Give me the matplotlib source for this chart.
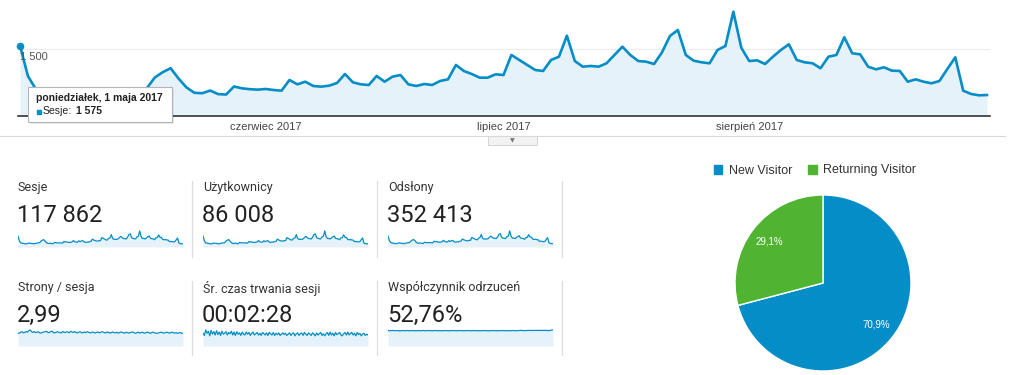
import matplotlib.pyplot as plt
from matplotlib.patches import Rectangle, Patch
import numpy as np

plt.rcParams['font.family'] = ['Liberation Sans', 'DejaVu Sans']

W, H = 1024, 375

# Sesje dziennie, 1 maja - 31 sierpnia 2017
sesje = [1575, 895, 600, 560, 520, 480, 450, 510, 570, 540,
         520, 490, 470, 530, 570, 600, 620, 860, 980, 1070,
         840, 640, 520, 510, 570, 490, 480, 660, 620, 600,
         590, 605, 582, 567, 806, 709, 768, 672, 657, 679,
         739, 940, 754, 709, 694, 896, 768, 880, 918, 709,
         672, 716, 694, 784, 821, 1142, 1008, 940, 858, 858,
         933, 918, 1366, 1254, 1142, 1030, 1008, 1254, 1328, 1798,
         1231, 1104, 1120, 1104, 1180, 1366, 1552, 1366, 1231, 1216,
         1164, 1426, 1791, 1925, 1366, 1238, 1202, 1180, 1478, 1567,
         2335, 1529, 1231, 1246, 1164, 1328, 1478, 1605, 1254, 1202,
         1180, 1068, 1328, 1366, 1762, 1404, 1381, 1104, 1045, 1090,
         1015, 1008, 768, 821, 768, 732, 784, 1052, 1314, 567,
         493, 463, 470]

uzytkownicy = [1180, 650, 440, 410, 380, 350, 330, 370, 420, 400,
               380, 360, 340, 390, 420, 440, 450, 630, 720, 790,
               620, 470, 380, 370, 420, 360, 350, 480, 450, 440,
               430, 440, 430, 410, 590, 520, 560, 490, 480, 500,
               540, 690, 550, 520, 510, 660, 560, 650, 670, 520,
               490, 520, 510, 570, 600, 840, 740, 690, 630, 630,
               680, 670, 1000, 920, 840, 750, 740, 920, 970, 1320,
               900, 810, 820, 810, 860, 1000, 1140, 1000, 900, 890,
               850, 1040, 1310, 1410, 1000, 910, 880, 860, 1080, 1150,
               1710, 1120, 900, 910, 850, 970, 1080, 1170, 920, 880,
               860, 780, 970, 1000, 1290, 1030, 1010, 810, 760, 800,
               740, 740, 560, 600, 560, 540, 570, 770, 960, 410,
               360, 340, 340]

odslony = [4600, 2700, 1850, 1700, 1550, 1450, 1400, 1500, 1750, 1600,
           1600, 1450, 1400, 1600, 1700, 1800, 1900, 2500, 2900, 3100,
           2600, 1900, 1600, 1550, 1700, 1500, 1450, 2000, 1850, 1800,
           1800, 1850, 1750, 1700, 2400, 2150, 2300, 2000, 2000, 2050,
           2200, 2800, 2250, 2150, 2100, 2650, 2300, 2600, 2750, 2150,
           2000, 2150, 2100, 2350, 2450, 3350, 3000, 2800, 2600, 2550,
           2800, 2750, 4000, 3700, 3400, 3100, 3000, 3700, 3950, 5200,
           3650, 3300, 3350, 3300, 3500, 4050, 4550, 4050, 3700, 3650,
           3500, 4200, 5200, 5600, 4050, 3700, 3600, 3550, 4350, 4600,
           6700, 4500, 3700, 3750, 3500, 3950, 4400, 4700, 3750, 3600,
           3550, 3200, 3950, 4050, 5150, 4150, 4100, 3300, 3150, 3250,
           3050, 3000, 2300, 2450, 2300, 2200, 2350, 3150, 3900, 1750,
           1500, 1400, 1450]

strony_na_sesje = [2.85, 2.80, 3.05, 3.15, 2.90, 3.00, 3.20, 3.05, 3.40, 3.55,
                   3.15, 3.00, 3.20, 2.95, 3.05, 3.15, 2.90, 2.85, 3.00, 3.10,
                   3.15, 3.25, 3.00, 2.95, 3.15, 3.30, 3.00, 2.90, 3.00, 3.15,
                   3.05, 2.95, 2.90, 3.20, 3.05, 2.95, 3.15, 3.05, 2.95, 3.25,
                   3.10, 3.00, 3.20, 2.95, 2.90, 3.05, 3.15, 2.95, 2.90, 3.10,
                   2.95, 3.15, 3.05, 2.95, 2.90, 3.10, 3.00, 2.85, 3.00, 3.10,
                   2.90, 3.00, 3.15, 3.05, 2.95, 2.90, 3.10, 3.00, 2.85, 2.95,
                   3.10, 2.95, 2.90, 3.05, 2.85, 2.95, 3.10, 3.00, 2.90, 2.85,
                   3.05, 2.95, 2.85, 2.95, 3.05, 3.10, 2.90, 2.80, 2.95, 3.05,
                   2.85, 2.95, 3.05, 2.90, 2.85, 3.00, 3.05, 2.90, 2.80, 3.00,
                   3.05, 2.90, 2.85, 2.80, 2.90, 3.00, 3.05, 2.90, 2.85, 2.95,
                   3.05, 2.95, 2.85, 2.95, 3.05, 2.90, 2.85, 2.95, 2.80, 2.90,
                   2.95, 2.85, 2.80]

# sredni czas trwania sesji w sekundach
czas_sesji = [150, 125, 190, 150, 175, 120, 185, 140, 170, 130,
              180, 135, 165, 125, 175, 140, 150, 170, 130, 160,
              145, 175, 130, 165, 125, 170, 140, 155, 125, 165,
              140, 130, 165, 140, 160, 125, 150, 165, 130, 145,
              160, 130, 150, 125, 160, 145, 130, 155, 125, 160,
              145, 130, 160, 125, 150, 135, 155, 125, 140, 155,
              135, 150, 125, 140, 155, 125, 145, 155, 120, 145,
              155, 125, 145, 155, 125, 160, 140, 125, 155, 140,
              125, 155, 140, 120, 155, 130, 145, 160, 125, 145,
              120, 145, 160, 125, 165, 130, 150, 120, 160, 135,
              145, 160, 130, 120, 145, 160, 130, 165, 130, 150,
              160, 130, 150, 120, 160, 135, 150, 120, 140, 150,
              125, 140, 130]

odrzucenia = [53.5, 52.0, 53.0, 52.5, 53.5, 52.0, 52.5, 53.0, 51.5, 52.0,
              52.5, 53.0, 52.0, 52.5, 53.0, 52.5, 52.0, 53.0, 52.5, 52.0,
              52.5, 52.0, 53.0, 52.5, 52.0, 52.5, 53.0, 52.5, 52.0, 52.5,
              53.0, 52.5, 52.5, 52.0, 52.5, 53.0, 52.5, 52.0, 52.5, 52.5,
              52.0, 52.5, 53.0, 52.5, 52.5, 52.0, 52.5, 52.5, 53.0, 52.5,
              52.5, 52.0, 52.5, 53.0, 52.5, 52.5, 52.0, 52.5, 52.5, 53.0,
              52.5, 52.0, 52.5, 52.5, 53.0, 52.5, 52.0, 52.5, 52.0, 52.5,
              52.5, 53.0, 52.5, 52.5, 52.0, 52.0, 52.5, 52.5, 53.0, 52.5,
              52.0, 52.5, 52.0, 52.5, 53.0, 52.5, 52.5, 52.0, 52.5, 52.5,
              52.0, 52.5, 53.0, 52.5, 52.5, 52.0, 52.5, 53.0, 53.5, 53.0,
              53.0, 52.5, 53.0, 53.0, 53.5, 53.0, 53.0, 53.5, 53.0, 53.5,
              53.5, 53.0, 53.5, 53.5, 53.0, 53.5, 53.5, 53.0, 53.5, 52.0,
              53.5, 54.5, 55.0]

miesiace = ['czerwiec 2017', 'lipiec 2017', 'sierpień 2017']
miesiace_dzien = [31, 61, 92]
siatka_y = 1500
siatka_etykieta = '1 500'

metryki = ['Sesje', 'Użytkownicy', 'Odsłony',
           'Strony / sesja', 'Śr. czas trwania sesji', 'Współczynnik odrzuceń']
wartosci = ['117 862', '86 008', '352 413', '2,99', '00:02:28', '52,76%']
serie = [sesje, uzytkownicy, odslony, strony_na_sesje, czas_sesji, odrzucenia]

typy = ['New Visitor', 'Returning Visitor']
udzialy = [70.9, 29.1]

tooltip_dzien = 'poniedziałek, 1 maja 2017'
tooltip_wartosc = '1 575'

NIEBIESKI = '#058dc7'
ZIELONY = '#50b432'
WYPELNIENIE = '#e6f2fa'


def box(x0, y0, x1, y1):
    # prostokat w pikselach -> wspolrzedne figury
    return [x0 / W, 1 - y1 / H, (x1 - x0) / W, (y1 - y0) / H]


fig = plt.figure(figsize=(W / 100, H / 100), dpi=100)

# tlo w pikselach: linie podzialu, teksty metryk
bg = fig.add_axes([0, 0, 1, 1])
bg.set_xlim(0, W)
bg.set_ylim(H, 0)
bg.axis('off')

bg.plot([0, 1005], [136, 136], color='#d9d9d9', lw=0.8)
bg.add_patch(Rectangle((488, 136), 49, 9, fc='#f2f2f2', ec='#d0d0d0', lw=0.6))
bg.text(512.5, 140.5, '▼', fontsize=4.5, color='#777777', ha='center', va='center',
        family='DejaVu Sans')

for x in [192, 377, 562]:
    bg.plot([x, x], [181, 257], color='#dddddd', lw=0.9)
    bg.plot([x, x], [281, 355], color='#dddddd', lw=0.9)

kolumny = [18, 203, 388]
wiersze = [(188, 215, 229, 247), (288, 315, 328, 346)]
dni = np.arange(len(sesje))

for i, (nazwa, wart, seria) in enumerate(zip(metryki, wartosci, serie)):
    x = kolumny[i % 3]
    ly, vy, st, sb = wiersze[i // 3]
    bg.text(x, ly, nazwa, fontsize=9, color='#333333', family='Roboto', va='center')
    bg.text(x - 1, vy, wart, fontsize=17, color='#212121', family='Roboto', va='center')

    # mini wykres
    sp = fig.add_axes(box(x, st, x + 165, sb))
    sp.fill_between(dni, seria, color=WYPELNIENIE, lw=0)
    sp.plot(dni, seria, color=NIEBIESKI, lw=0.9)
    sp.set_xlim(0, len(seria) - 1)
    sp.set_ylim(0, max(seria) * 1.12)
    sp.axis('off')

# glowny wykres sesji
ax = fig.add_axes(box(18, 5, 990, 116))
ax.set_xlim(-0.25, 122.38)
ax.set_ylim(0, 2485)
ax.axhline(siatka_y, color='#ececec', lw=0.8, zorder=0)
ax.fill_between(dni, sesje, color=WYPELNIENIE, lw=0, zorder=1)
ax.plot(dni, sesje, color=NIEBIESKI, lw=1.9, zorder=2)
ax.plot(dni[0], sesje[0], 'o', color=NIEBIESKI, ms=4.5, zorder=3, clip_on=False)
ax.axhline(0, color='#333333', lw=1.2, clip_on=False)
for s in ax.spines.values():
    s.set_visible(False)
ax.set_yticks([])
ax.set_xticks(miesiace_dzien)
ax.set_xticklabels(miesiace, fontsize=8, color='#444444')
ax.tick_params(axis='x', length=0, pad=4)
ax.patch.set_alpha(0)

# kolowy: nowi / powracajacy
ap = fig.add_axes(box(735, 195, 911, 371))
ap.pie(udzialy, colors=[NIEBIESKI, ZIELONY], startangle=90, counterclock=False,
       autopct=lambda p: f'{p:.1f}%'.replace('.', ','), pctdistance=0.77,
       wedgeprops=dict(edgecolor='white', linewidth=1),
       textprops=dict(color='white', fontsize=7))
ap.set_xlim(-1, 1)
ap.set_ylim(-1, 1)
uchwyty = [Patch(color=NIEBIESKI), Patch(color=ZIELONY)]
ap.legend(uchwyty, typy, loc='center', bbox_to_anchor=(815 / W, 1 - 170.5 / H),
          bbox_transform=fig.transFigure, ncol=2, frameon=False, fontsize=9,
          handlelength=0.7, handleheight=0.7, handletextpad=0.5, columnspacing=1.3,
          borderpad=0, labelcolor='#333333')

# nakladka: etykieta siatki i dymek
ov = fig.add_axes([0, 0, 1, 1])
ov.set_xlim(0, W)
ov.set_ylim(H, 0)
ov.axis('off')
ov.text(20, 57, siatka_etykieta, fontsize=8, color='#555555', va='center')

ov.add_patch(Rectangle((29.5, 88.5), 144, 35, fc='black', alpha=0.08, lw=0))
ov.add_patch(Rectangle((28, 87), 144, 35, fc='white', ec='#b5b5b5', lw=0.8))
ov.text(36, 98, tooltip_dzien, fontsize=7.5, weight='bold', color='#222222', va='center')
ov.plot(38.5, 111.5, 's', color=NIEBIESKI, ms=3)
ov.text(43, 111.5, 'Sesje:', fontsize=7.5, color='#222222', va='center')
ov.text(76, 111.5, tooltip_wartosc, fontsize=7.5, weight='bold', color='#222222', va='center')

fig.savefig('out.png', dpi=100)
